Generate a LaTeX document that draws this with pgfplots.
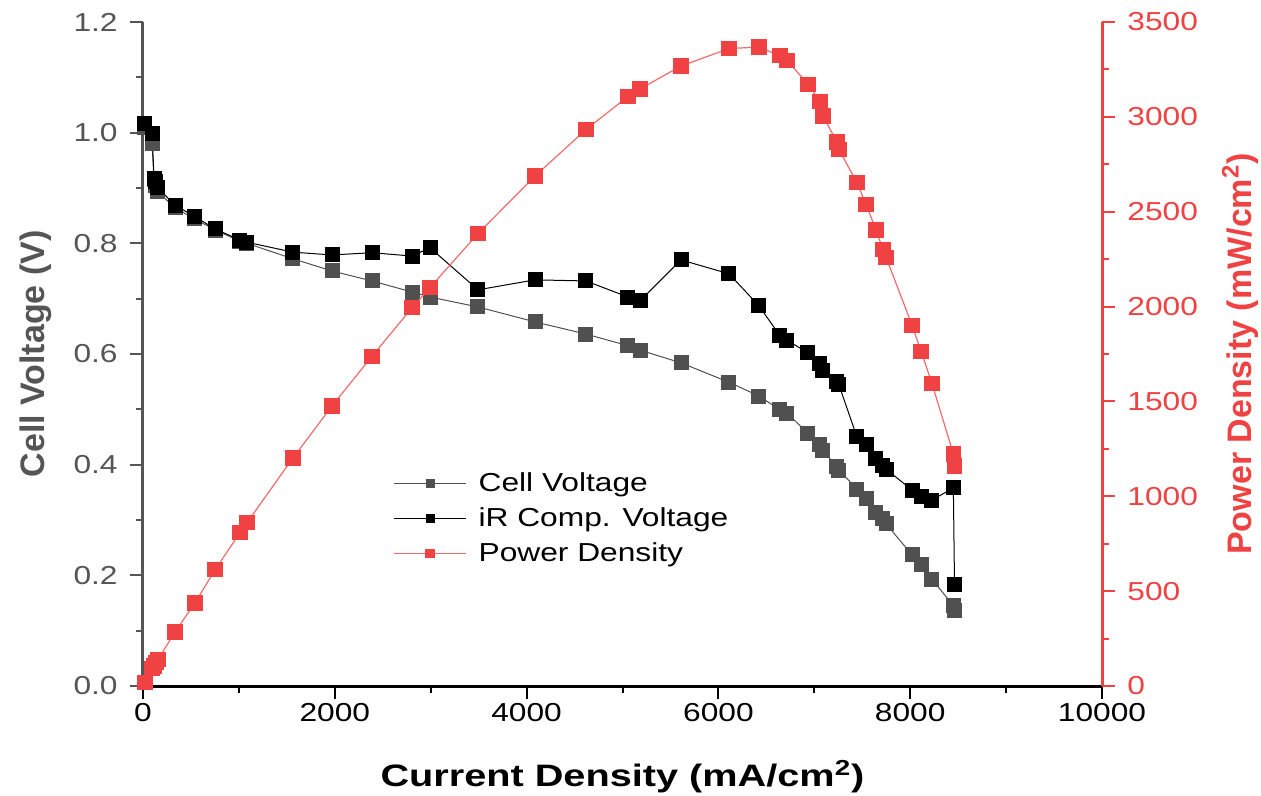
\documentclass[border=0pt]{standalone}
\usepackage{fontspec}
\setmainfont{Liberation Sans}[FakeStretch=1.22]
\newfontfamily\plainfont{Liberation Sans}
\newfontfamily\widefont{Liberation Sans}[FakeStretch=1.28]
\usepackage{pgfplots}
\usepackage{pgfplotstable}
\pgfplotsset{compat=1.18}
\definecolor{cgray}{HTML}{505050}
\definecolor{axgray}{HTML}{555555}
\definecolor{cred}{HTML}{F04242}
\definecolor{lred}{HTML}{F26A6A}

\pgfplotstableread{
x v ir p
20 1.010 1.017 20
94 0.981 0.999 92
115 0.915 0.918 105
135 0.905 0.912 122
156 0.893 0.900 139
334 0.864 0.869 285
542 0.844 0.848 438
751 0.824 0.826 612
1011 0.804 0.806 808
1084 0.800 0.802 860
1564 0.772 0.784 1202
1971 0.750 0.779 1476
2388 0.732 0.783 1738
2805 0.712 0.777 1993
2993 0.703 0.792 2100
3493 0.685 0.716 2385
4088 0.658 0.734 2688
4619 0.636 0.732 2933
5057 0.615 0.703 3107
5183 0.607 0.696 3147
5610 0.584 0.770 3268
6110 0.549 0.745 3360
6423 0.524 0.687 3368
6642 0.499 0.633 3322
6715 0.493 0.625 3298
6934 0.457 0.602 3172
7059 0.436 0.582 3082
7090 0.425 0.571 3005
7236 0.396 0.551 2867
7257 0.390 0.544 2828
7445 0.356 0.450 2652
7539 0.338 0.437 2540
7643 0.314 0.412 2404
7716 0.302 0.398 2300
7748 0.293 0.392 2260
8019 0.237 0.354 1902
8113 0.219 0.342 1765
8227 0.193 0.336 1594
8450 0.145 0.358 1223
8462 0.137 0.183 1160
}\datatable

\begin{document}
\begin{tikzpicture}
\useasboundingbox (-71.5pt,-55pt) rectangle (559pt,343pt);
\begin{axis}[
  at={(0,0)}, anchor=south west,
  scale only axis, width=479.5pt, height=332pt,
  xmin=0, xmax=10000, ymin=0, ymax=1.2,
  clip=false,
  axis x line*=bottom, axis y line*=left,
  x axis line style={black, line width=1.5pt, -},
  y axis line style={axgray, line width=1.5pt, -},
  xtick={0,2000,4000,6000,8000,10000},
  ytick={0,0.2,0.4,0.6,0.8,1.0,1.2},
  minor x tick num=1, minor y tick num=1,
  tick align=outside,
  major tick length=6.5pt, minor tick length=3.5pt,
  xtick style={black, line width=1pt},
  ytick style={axgray, line width=1pt},
  /pgf/number format/assume math mode=true,
  yticklabel style={/pgf/number format/fixed, /pgf/number format/fixed zerofill, /pgf/number format/precision=1, axgray, font=\fontsize{13}{15}\selectfont, inner xsep=0pt, xshift=-6pt},
  xticklabel style={/pgf/number format/1000 sep={}, black, font=\fontsize{13}{15}\selectfont, inner ysep=2pt},
  scaled x ticks=false,
  xlabel={\widefont\bfseries\fontsize{15.5}{18}\selectfont Current Density (mA/cm\textsuperscript{2})},
  xlabel style={at={(axis description cs:0.5,-0.1506)}, anchor=base},
  ylabel={\plainfont\bfseries\fontsize{17}{20}\selectfont Cell Voltage (V)},
  ylabel style={at={(axis description cs:-0.1116,0.5)}, anchor=center, axgray},
  legend style={draw=none, fill=none, at={(axis description cs:0.2607,0.322)}, anchor=north west, inner sep=0pt, row sep=6.5pt, font=\fontsize{13}{15}\selectfont, nodes={inner sep=0pt}},
  legend cell align=left,
  /tikz/every odd column/.append style={column sep=6pt},
  legend image code/.code={\draw[mark repeat=2, mark phase=2, #1, mark size=2pt] plot coordinates {(0pt,0pt) (18pt,0pt) (36pt,0pt)};},
]
\addplot[cgray, line width=0.5pt, mark=square*, mark size=3.5pt, mark options={fill=cgray, draw=cgray, solid}] table[x=x, y=v] {\datatable};
\addlegendentry{Cell Voltage}
\addplot[black, line width=0.5pt, mark=square*, mark size=3.5pt, mark options={fill=black, draw=black, solid}] table[x=x, y=ir] {\datatable};
\addlegendentry{iR Comp. Voltage}
\addlegendimage{lred, line width=0.6pt, mark=square*, mark options={fill=cred, draw=cred}}
\addlegendentry{Power Density}
\end{axis}
\begin{axis}[
  at={(0,0)}, anchor=south west,
  scale only axis, width=479.5pt, height=332pt,
  xmin=0, xmax=10000, ymin=0, ymax=3500,
  clip=false,
  axis x line=none, axis y line*=right,
  y axis line style={cred, line width=1.5pt, -},
  ytick={0,500,1000,1500,2000,2500,3000,3500},
  minor y tick num=1,
  tick align=outside,
  major tick length=6.5pt, minor tick length=3.5pt,
  ytick style={cred, line width=1pt},
  /pgf/number format/assume math mode=true,
  yticklabel style={/pgf/number format/1000 sep={}, cred, font=\fontsize{13}{15}\selectfont, inner xsep=0pt, xshift=6pt},
  ylabel={\plainfont\bfseries\fontsize{17}{20}\selectfont Power Density (mW/cm\textsuperscript{2})},
  ylabel style={at={(axis description cs:1.1439,0.5)}, anchor=center, cred},
]
\addplot[lred, line width=0.6pt, mark=square*, mark size=3.5pt, mark options={fill=cred, draw=cred, solid}] table[x=x, y=p] {\datatable};
\end{axis}
\end{tikzpicture}
\end{document}
